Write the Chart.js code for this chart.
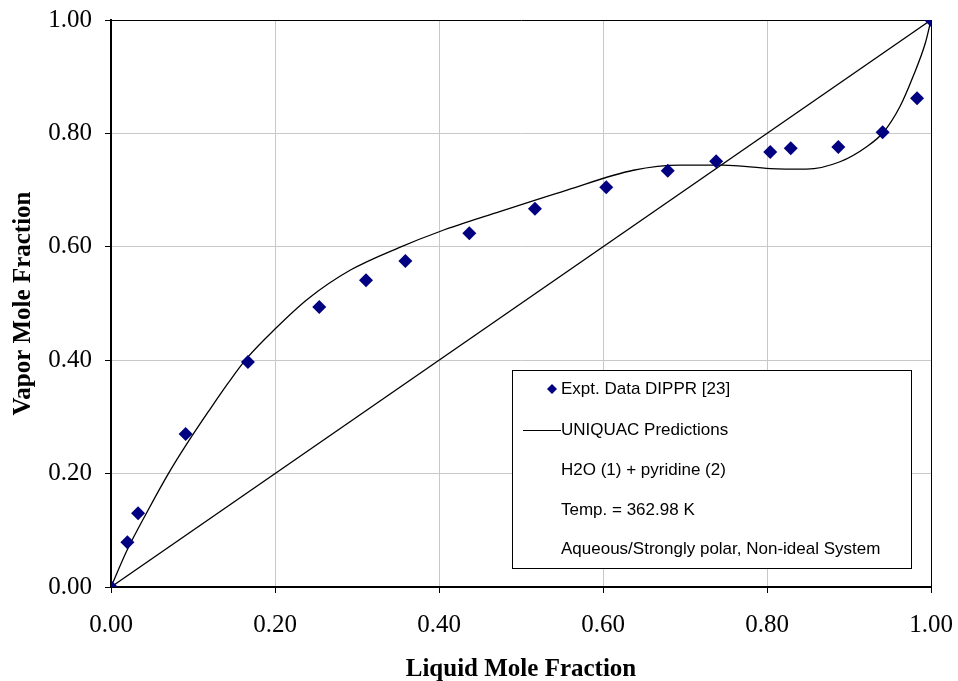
<!DOCTYPE html>
<html>
<head>
<meta charset="utf-8">
<script src="https://cdn.jsdelivr.net/npm/chart.js@4.4.0/dist/chart.umd.min.js"></script>
<style>
  html, body { margin: 0; padding: 0; background: #fff; }
  #wrap { width: 958px; height: 681px; }
</style>
</head>
<body>
<div id="wrap"><canvas id="vle"></canvas></div>
<script>
var exptX = [0, 0.020, 0.033, 0.091, 0.167, 0.254, 0.311, 0.359, 0.437, 0.517, 0.604, 0.679, 0.738, 0.804, 0.829, 0.887, 0.941, 0.983, 1.0];
var exptY = [0, 0.079, 0.130, 0.270, 0.397, 0.494, 0.541, 0.575, 0.624, 0.667, 0.705, 0.734, 0.751, 0.767, 0.774, 0.776, 0.802, 0.862, 1.0];

// UNIQUAC curve, traced
var uniqX = [0, 0.020, 0.045, 0.070, 0.095, 0.120, 0.143, 0.166, 0.200, 0.240, 0.292, 0.352, 0.401, 0.474, 0.556, 0.637, 0.694, 0.746, 0.804, 0.848, 0.889, 0.922, 0.942, 0.962, 0.978, 0.993, 1.0];
var uniqY = [0, 0.066, 0.135, 0.200, 0.258, 0.312, 0.360, 0.404, 0.455, 0.508, 0.559, 0.599, 0.627, 0.662, 0.700, 0.735, 0.744, 0.744, 0.738, 0.737, 0.750, 0.777, 0.802, 0.847, 0.900, 0.959, 1.0];

// x = y reference line
var diagX = [0, 1];
var diagY = [0, 1];

var tickVals = [0, 0.2, 0.4, 0.6, 0.8, 1.0];

var legendLines = [
    'Expt. Data DIPPR [23]',
    'UNIQUAC Predictions',
    'H2O (1) + pyridine (2)',
    'Temp. = 362.98 K',
    'Aqueous/Strongly polar, Non-ideal System'
];

var serif = '"Liberation Serif", "Times New Roman", serif';

function pts(xs, ys){
    var out = [];
    for(var i=0; i<xs.length; i++)
        out.push({x: xs[i], y: ys[i]});
    return out;
}

var boxLegend = {
    id: 'boxLegend',
    afterDraw: function(chart){
        var ctx = chart.ctx;
        var L = 512, T = 370, R = 911, B = 568;
        ctx.save();
        ctx.fillStyle = '#fff';
        ctx.fillRect(L, T, R - L, B - T);
        ctx.strokeStyle = '#000';
        ctx.lineWidth = 1;
        ctx.strokeRect(L + 0.5, T + 0.5, R - L, B - T);

        ctx.font = '17px "Liberation Sans", Arial, sans-serif';
        ctx.fillStyle = '#000';
        ctx.textBaseline = 'middle';
        var rows = [389, 430, 470, 510, 549];
        for(var i=0; i<legendLines.length; i++)
            ctx.fillText(legendLines[i], 561, rows[i]);

        // diamond marker
        ctx.fillStyle = '#000080';
        ctx.beginPath();
        ctx.moveTo(552, rows[0] - 5);
        ctx.lineTo(557, rows[0]);
        ctx.lineTo(552, rows[0] + 5);
        ctx.lineTo(547, rows[0]);
        ctx.closePath();
        ctx.fill();

        // line sample
        ctx.strokeStyle = '#000';
        ctx.beginPath();
        ctx.moveTo(523, rows[1] + 0.5);
        ctx.lineTo(561, rows[1] + 0.5);
        ctx.stroke();
        ctx.restore();
    }
};

new Chart(document.getElementById('vle'), {
    type: 'scatter',
    data: {
        datasets: [{
            label: 'Expt. Data DIPPR [23]',
            data: pts(exptX, exptY),
            pointStyle: 'rectRot',
            pointRadius: 7,
            backgroundColor: '#000080',
            borderColor: '#000080',
            borderWidth: 0,
            showLine: false
        }, {
            label: 'UNIQUAC Predictions',
            data: pts(uniqX, uniqY),
            showLine: true,
            borderColor: '#000',
            borderWidth: 1.3,
            pointRadius: 0,
            cubicInterpolationMode: 'monotone',
            fill: false
        }, {
            label: 'diagonal',
            data: pts(diagX, diagY),
            showLine: true,
            borderColor: '#000',
            borderWidth: 1.3,
            pointRadius: 0,
            fill: false
        }]
    },
    options: {
        responsive: true,
        maintainAspectRatio: false,
        animation: false,
        layout: { padding: { top: 20, right: 27, left: 0, bottom: 0 } },
        plugins: {
            legend: { display: false },
            tooltip: { enabled: false }
        },
        scales: {
            x: {
                type: 'linear',
                min: 0, max: 1,
                afterFit: function(s){ s.height = 94; s.paddingLeft = 0; s.paddingRight = 0; },
                afterBuildTicks: function(s){ s.ticks = tickVals.map(function(v){ return {value: v}; }); },
                ticks: {
                    color: '#000',
                    padding: 17,
                    font: { family: serif, size: 25 },
                    callback: function(v){ return v.toFixed(2); }
                },
                grid: {
                    color: function(c){ return c.tick && c.tick.value == 1 ? '#000' : '#c8c8c8'; },
                    lineWidth: 1,
                    tickColor: '#000',
                    tickLength: 6
                },
                border: { color: '#000', width: 2 },
                title: {
                    display: true,
                    text: 'Liquid Mole Fraction',
                    color: '#000',
                    padding: { top: 0, bottom: -4 },
                    font: { family: serif, size: 25, weight: 'bold' }
                }
            },
            y: {
                type: 'linear',
                min: 0, max: 1,
                afterFit: function(s){ s.width = 111; s.paddingTop = 0; s.paddingBottom = 0; },
                afterBuildTicks: function(s){ s.ticks = tickVals.map(function(v){ return {value: v}; }); },
                ticks: {
                    color: '#000',
                    padding: 13,
                    font: { family: serif, size: 25 },
                    callback: function(v){ return v.toFixed(2); }
                },
                grid: {
                    color: function(c){ return c.tick && c.tick.value == 1 ? '#000' : '#c8c8c8'; },
                    lineWidth: 1,
                    tickColor: '#000',
                    tickLength: 6
                },
                border: { color: '#000', width: 2 },
                title: {
                    display: true,
                    text: 'Vapor Mole Fraction',
                    color: '#000',
                    padding: { top: 9, bottom: 0 },
                    font: { family: serif, size: 25, weight: 'bold' }
                }
            }
        }
    },
    plugins: [boxLegend]
});
</script>
</body>
</html>
